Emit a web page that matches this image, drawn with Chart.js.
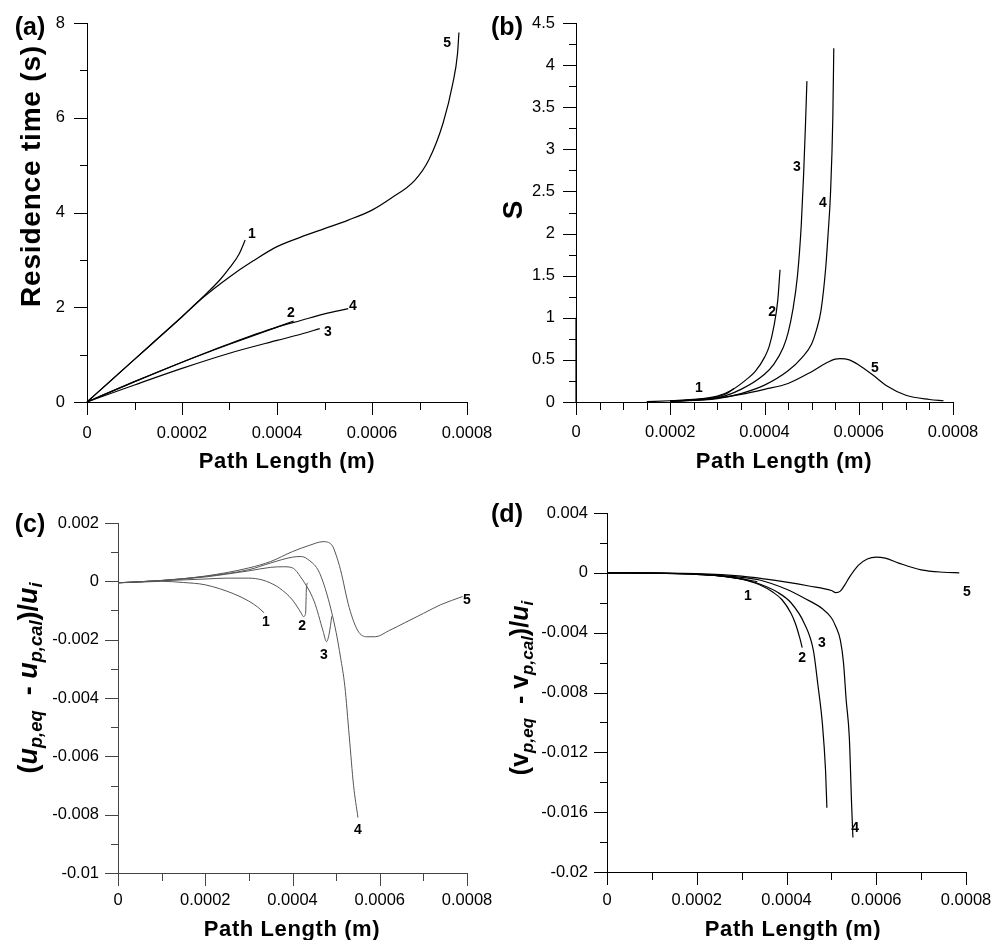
<!DOCTYPE html>
<html>
<head>
<meta charset="utf-8">
<script src="https://cdn.jsdelivr.net/npm/chart.js@4.4.1/dist/chart.umd.min.js"></script>
<style>
  html, body { margin: 0; padding: 0; background: #fff; }
  #page { position: relative; width: 1003px; height: 940px; overflow: hidden; font-family: 'Liberation Sans', Arial, sans-serif; }
  canvas { position: absolute; }
  .txt { position: absolute; font-weight: bold; white-space: nowrap; line-height: 1; color: #000; transform: translate(-50%, -50%); }
  .rot { transform: translate(-50%, -50%) rotate(-90deg); }
  .txt sub { font-size: 0.68em; vertical-align: -0.32em; line-height: 0; }
</style>
</head>
<body>
<div id="page">
  <canvas id="chartA" width="500" height="470" style="left:0;top:0"></canvas>
  <canvas id="chartB" width="503" height="470" style="left:500px;top:0"></canvas>
  <canvas id="chartC" width="500" height="470" style="left:0;top:470px"></canvas>
  <canvas id="chartD" width="503" height="470" style="left:500px;top:470px"></canvas>

  <div class="txt" style="left:30px;top:26px;font-size:25px">(a)</div>
  <div class="txt" style="left:507px;top:26px;font-size:25px">(b)</div>
  <div class="txt" style="left:30px;top:523px;font-size:25px">(c)</div>
  <div class="txt" style="left:507px;top:513px;font-size:25px">(d)</div>

  <div class="txt" style="left:287px;top:461px;font-size:22px;letter-spacing:0.6px">Path Length (m)</div>
  <div class="txt" style="left:784px;top:461px;font-size:22px;letter-spacing:0.6px">Path Length (m)</div>
  <div class="txt" style="left:292px;top:929px;font-size:22px;letter-spacing:0.6px">Path Length (m)</div>
  <div class="txt" style="left:793px;top:929px;font-size:22px;letter-spacing:0.6px">Path Length (m)</div>

  <div class="txt rot" style="left:31px;top:176px;font-size:28px;letter-spacing:0.8px">Residence time (s)</div>
  <div class="txt rot" style="left:513px;top:210px;font-size:28px">S</div>
  <div class="txt rot" style="left:28px;top:678px;font-size:27px">(<i>u</i><sub><i>p,eq</i></sub>&nbsp;&nbsp;- <i>u</i><sub><i>p,cal</i></sub>)/<i>u</i><sub><i>i</i></sub></div>
  <div class="txt rot" style="left:519px;top:688px;font-size:25px">(v<sub><i>p,eq</i></sub>&nbsp;&nbsp;- v<sub><i>p,cal</i></sub>)/<i>u</i><sub><i>i</i></sub></div>
</div>
<script>
// tick labels
const pathLabels = ['0', '0.0002', '0.0004', '0.0006', '0.0008'];
const timeLabels = ['0', '2', '4', '6', '8'];
const sLabels = ['0', '0.5', '1', '1.5', '2', '2.5', '3', '3.5', '4', '4.5'];
const duLabels = ['0.002', '0', '-0.002', '-0.004', '-0.006', '-0.008', '-0.01'];
const dvLabels = ['0.004', '0', '-0.004', '-0.008', '-0.012', '-0.016', '-0.02'];

// (a) residence time (s) vs path length (m)
const time1 = [[0, 0], [0.00005, 0.45], [0.0001, 0.9], [0.00015, 1.35], [0.0002, 1.8], [0.00024, 2.18], [0.00028, 2.58], [0.0003, 2.83], [0.00032, 3.12], [0.000333, 3.42]];
const time2 = [[0, 0], [0.0001, 0.43], [0.0002, 0.84], [0.0003, 1.22], [0.0004, 1.58], [0.000435, 1.71]];
const time3 = [[0, 0], [0.0001, 0.36], [0.0002, 0.71], [0.0003, 1.03], [0.0004, 1.3], [0.00045, 1.43], [0.00049, 1.55]];
const time4 = [[0, 0], [0.0001, 0.43], [0.0002, 0.84], [0.0003, 1.23], [0.0004, 1.58], [0.00045, 1.72], [0.0005, 1.86], [0.00055, 1.97]];
const time5 = [[0, 0], [0.0001, 0.9], [0.0002, 1.8], [0.00024, 2.17], [0.0003, 2.64], [0.00035, 2.98], [0.0004, 3.28], [0.00045, 3.48], [0.0005, 3.66], [0.00055, 3.84], [0.0006, 4.05], [0.00064, 4.3], [0.00069, 4.68], [0.00072, 5.12], [0.00075, 5.9], [0.00077, 6.72], [0.00078, 7.35], [0.000783, 7.8]];

// (b) S vs path length
const sStart = [[0, 0], [0, 1]];
const s1 = [[0.0002, 0.01], [0.00025, 0.025], [0.0003, 0.06], [0.00032, 0.1], [0.000335, 0.16]];
const s2 = [[0.0002, 0.01], [0.00025, 0.03], [0.0003, 0.07], [0.00033, 0.14], [0.00036, 0.26], [0.00038, 0.36], [0.0004, 0.53], [0.00041, 0.66], [0.00042, 0.9], [0.000428, 1.2], [0.000433, 1.57]];
const s3 = [[0.0002, 0.01], [0.0003, 0.05], [0.00035, 0.15], [0.0004, 0.33], [0.00042, 0.45], [0.00044, 0.65], [0.00045, 0.82], [0.00046, 1.09], [0.00047, 1.5], [0.000478, 2.1], [0.000483, 2.7], [0.000487, 3.3], [0.00049, 3.81]];
const s4 = [[0.0002, 0.01], [0.0003, 0.04], [0.00035, 0.1], [0.0004, 0.2], [0.00045, 0.37], [0.00048, 0.53], [0.0005, 0.69], [0.00051, 0.85], [0.00052, 1.09], [0.00053, 1.6], [0.000535, 2.0], [0.00054, 2.47], [0.000545, 3.38], [0.000547, 4.2]];
const s5 = [[0.00015, 0.005], [0.0002, 0.015], [0.00025, 0.03], [0.0003, 0.05], [0.00035, 0.09], [0.0004, 0.15], [0.00045, 0.22], [0.0005, 0.36], [0.00053, 0.46], [0.00055, 0.51], [0.00056, 0.515], [0.00058, 0.5], [0.0006, 0.44], [0.00063, 0.32], [0.00066, 0.19], [0.0007, 0.08], [0.00075, 0.03], [0.00078, 0.015]];

// (c) (u_p,eq - u_p,cal)/u_i
const du1 = [[0, -0.00005], [0.00005, -0.00003], [0.0001, 0], [0.00015, -0.00004], [0.0002, -0.00012], [0.000264, -0.00042], [0.0003, -0.00068], [0.00032, -0.00088], [0.000335, -0.00108]];
const du2 = [[0, -0.00005], [0.0001, 0.00002], [0.0002, 0.00008], [0.00025, 0.00011], [0.0003, 0.00011], [0.00033, 0.00005], [0.00035, -0.00006], [0.00037, -0.00023], [0.0004, -0.00064], [0.00042, -0.00109], [0.000425, -0.00121], [0.00043, -0.0011], [0.000432, -0.0002], [0.000435, -0.00005]];
const du3 = [[0, -0.00005], [0.0001, 0.00003], [0.0002, 0.00015], [0.00025, 0.00025], [0.0003, 0.00036], [0.00035, 0.00048], [0.00038, 0.0005], [0.0004, 0.00046], [0.00042, 0.00012], [0.00045, -0.0007], [0.00047, -0.0017], [0.000478, -0.00207], [0.000484, -0.0018], [0.00049, -0.0012]];
const du4 = [[0, -0.00005], [0.0001, 0.00003], [0.0002, 0.00017], [0.0003, 0.0004], [0.00035, 0.00063], [0.0004, 0.00083], [0.00042, 0.00085], [0.00044, 0.0007], [0.00046, 0.00035], [0.00048, -0.0005], [0.0005, -0.00175], [0.00051, -0.0026], [0.00052, -0.0036], [0.00053, -0.0053], [0.00054, -0.007], [0.00055, -0.0081]];
const du5 = [[0, -0.00005], [0.0001, 0.00003], [0.0002, 0.00018], [0.0003, 0.00046], [0.00035, 0.00068], [0.0004, 0.00102], [0.00044, 0.00124], [0.00047, 0.00136], [0.00049, 0.00125], [0.0005, 0.0009], [0.00051, 0.0004], [0.00053, -0.0009], [0.00055, -0.0017], [0.00057, -0.0019], [0.00059, -0.0019], [0.00062, -0.0017], [0.00066, -0.0014], [0.0007, -0.0011], [0.00074, -0.0008], [0.00079, -0.00052]];

// (d) (v_p,eq - v_p,cal)/u_i
const dv1 = [[0, 0], [0.0001, -0.00002], [0.0002, -0.0001], [0.00025, -0.0002], [0.0003, -0.0004], [0.000335, -0.0006]];
const dv2 = [[0, 0], [0.0001, -0.00002], [0.0002, -0.0001], [0.00025, -0.0002], [0.0003, -0.00043], [0.00034, -0.0008], [0.00037, -0.0013], [0.00039, -0.0018], [0.00041, -0.0027], [0.00042, -0.0034], [0.00043, -0.0044], [0.000435, -0.005]];
const dv3 = [[0, 0], [0.0001, -0.00002], [0.0002, -0.0001], [0.0003, -0.0004], [0.00034, -0.00075], [0.00038, -0.0013], [0.00041, -0.002], [0.00044, -0.0034], [0.00046, -0.0052], [0.00047, -0.0075], [0.00048, -0.0101], [0.000487, -0.0132], [0.00049, -0.0157]];
const dv4 = [[0, 0], [0.0001, -0.00002], [0.0002, -0.00008], [0.0003, -0.0003], [0.00034, -0.00048], [0.0004, -0.0011], [0.00044, -0.0017], [0.00048, -0.0024], [0.0005, -0.003], [0.00051, -0.0036], [0.00052, -0.0045], [0.000527, -0.006], [0.000533, -0.0085], [0.00054, -0.011], [0.000545, -0.0154], [0.000548, -0.0177]];
const dv5 = [[0, 0], [0.0001, -0.00001], [0.0002, -0.00005], [0.0003, -0.00022], [0.00035, -0.0004], [0.0004, -0.00062], [0.00045, -0.00088], [0.0005, -0.00118], [0.00051, -0.00132], [0.00052, -0.00122], [0.00053, -0.0008], [0.00054, -0.0003], [0.00056, 0.0005], [0.00058, 0.00092], [0.0006, 0.00105], [0.00062, 0.00098], [0.00065, 0.00065], [0.0007, 0.0002], [0.00075, 0.00004], [0.000785, 0]];

// where the curve numbers sit, in data units
const tagsA = [[0.000347, 3.55, '1'], [0.000429, 1.88, '2'], [0.000507, 1.48, '3'], [0.00056, 2.03, '4'], [0.000758, 7.58, '5']];
const tagsB = [[0.000261, 0.166, '1'], [0.000416, 1.07, '2'], [0.000469, 2.79, '3'], [0.000524, 2.36, '4'], [0.000634, 0.40, '5']];
const tagsC = [[0.000339, -0.00139, '1'], [0.000422, -0.00153, '2'], [0.000472, -0.00253, '3'], [0.00055, -0.00853, '4'], [0.0008, -0.00064, '5']];
const tagsD = [[0.000314, -0.00155, '1'], [0.000435, -0.00569, '2'], [0.000479, -0.00469, '3'], [0.000553, -0.01706, '4'], [0.000802, -0.00128, '5']];

const FONT = "'Liberation Sans', Arial, sans-serif";
Chart.defaults.font.family = FONT;
Chart.defaults.color = '#000';

function fmt(v) {
    if (Math.abs(v) < 1e-12) {
        return '0';
    }
    return String(Number(v.toPrecision(6)));
}

function tickText(labels) {
    return v => {
        const s = fmt(v);
        return labels.includes(s) ? s : '';
    };
}

// labelled ticks are drawn long, the others short
function tickMarks(color) {
    return {
        id: 'tickMarks',
        afterDraw(chart) {
            const ctx = chart.ctx;
            const { x, y } = chart.scales;
            ctx.save();
            ctx.strokeStyle = color;
            ctx.lineWidth = 1;
            ctx.beginPath();
            x.ticks.forEach(t => {
                const px = Math.round(x.getPixelForValue(t.value)) + 0.5;
                ctx.moveTo(px, x.top);
                ctx.lineTo(px, x.top + (t.label ? 13 : 8));
            });
            y.ticks.forEach(t => {
                const py = Math.round(y.getPixelForValue(t.value)) + 0.5;
                ctx.moveTo(y.right, py);
                ctx.lineTo(y.right - (t.label ? 13 : 7), py);
            });
            ctx.stroke();
            ctx.restore();
        }
    };
}

function curveTags(tags) {
    return {
        id: 'curveTags',
        afterDatasetsDraw(chart) {
            const ctx = chart.ctx;
            const { x, y } = chart.scales;
            ctx.save();
            ctx.fillStyle = '#000';
            ctx.font = 'bold 14px ' + FONT;
            ctx.textAlign = 'center';
            ctx.textBaseline = 'middle';
            tags.forEach(([vx, vy, text]) => {
                ctx.fillText(text, x.getPixelForValue(vx), y.getPixelForValue(vy));
            });
            ctx.restore();
        }
    };
}

function makePanel(id, p) {
    const datasets = p.series.map(s => ({
        data: s.map(([x, y]) => ({ x, y })),
        borderColor: p.lineColor,
        borderWidth: p.lineWidth,
        pointRadius: 0,
        showLine: true,
        cubicInterpolationMode: s.length > 2 ? 'monotone' : 'default',
        clip: false
    }));

    // the hidden grid tick length only pushes the labels away from the axis;
    // ticks.padding is kept at 0 so it does not shrink the plot area
    const hiddenGrid = len => ({
        display: true,
        drawOnChartArea: false,
        drawTicks: true,
        tickLength: len,
        color: 'rgba(0,0,0,0)'
    });

    return new Chart(document.getElementById(id), {
        type: 'scatter',
        data: { datasets },
        options: {
            responsive: false,
            animation: false,
            devicePixelRatio: 1,
            layout: { padding: { top: p.top, right: p.right, left: 0, bottom: 0 } },
            plugins: { legend: { display: false }, tooltip: { enabled: false } },
            scales: {
                x: {
                    type: 'linear',
                    min: 0,
                    max: 0.0008,
                    border: { display: true, color: p.axisColor, width: 1 },
                    grid: hiddenGrid(p.xPad),
                    ticks: {
                        stepSize: p.xStep,
                        maxTicksLimit: 100,
                        autoSkip: false,
                        maxRotation: 0,
                        padding: 0,
                        font: { size: 16.5 },
                        callback: tickText(pathLabels)
                    },
                    afterFit: s => { s.height = p.xHeight; }
                },
                y: {
                    type: 'linear',
                    min: p.yMin,
                    max: p.yMax,
                    border: { display: true, color: p.axisColor, width: 1 },
                    grid: hiddenGrid(p.yPad),
                    ticks: {
                        stepSize: p.yStep,
                        maxTicksLimit: 100,
                        autoSkip: false,
                        padding: 0,
                        font: { size: 16.5 },
                        callback: tickText(p.yLabels)
                    },
                    afterFit: s => { s.width = p.yWidth; }
                }
            }
        },
        plugins: [tickMarks(p.axisColor), curveTags(p.tags)]
    });
}

makePanel('chartA', {
    series: [time1, time2, time3, time4, time5],
    lineColor: '#000', lineWidth: 1.2, axisColor: '#000',
    top: 23, right: 33, yWidth: 87, xHeight: 68,
    xStep: 0.0001, xPad: 22,
    yMin: 0, yMax: 8, yStep: 1, yPad: 22, yLabels: timeLabels,
    tags: tagsA
});

makePanel('chartB', {
    series: [sStart, s1, s2, s3, s4, s5],
    lineColor: '#000', lineWidth: 1.2, axisColor: '#000',
    top: 23, right: 50, yWidth: 76, xHeight: 68,
    xStep: 0.00005, xPad: 21,
    yMin: 0, yMax: 4.5, yStep: 0.25, yPad: 21, yLabels: sLabels,
    tags: tagsB
});

makePanel('chartC', {
    series: [du1, du2, du3, du4, du5],
    lineColor: '#555', lineWidth: 1, axisColor: '#444',
    top: 53, right: 33, yWidth: 118, xHeight: 67,
    xStep: 0.0001, xPad: 18,
    yMin: -0.01, yMax: 0.002, yStep: 0.001, yPad: 19, yLabels: duLabels,
    tags: tagsC
});

makePanel('chartD', {
    series: [dv1, dv2, dv3, dv4, dv5],
    lineColor: '#000', lineWidth: 1.2, axisColor: '#000',
    top: 43, right: 37, yWidth: 107, xHeight: 68,
    xStep: 0.0001, xPad: 19,
    yMin: -0.02, yMax: 0.004, yStep: 0.002, yPad: 19, yLabels: dvLabels,
    tags: tagsD
});
</script>
</body>
</html>
